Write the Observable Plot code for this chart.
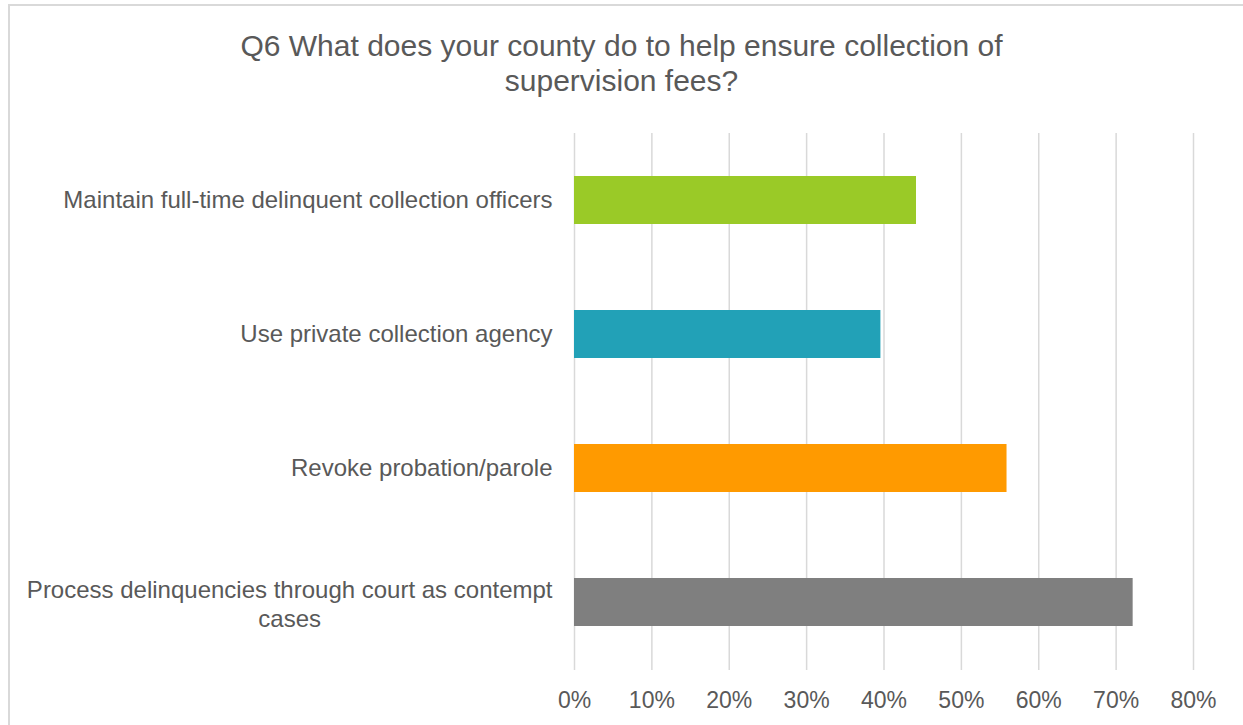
<!DOCTYPE html>
<html>
<head>
<meta charset="utf-8">
<script src="https://cdn.jsdelivr.net/npm/d3@7"></script>
<script src="https://cdn.jsdelivr.net/npm/@observablehq/plot@0.6"></script>
<style>
  html, body { margin: 0; padding: 0; background: #fff; overflow: hidden; width: 1243px; height: 725px; }
  #frame { position: absolute; left: 8px; top: 4px; width: 1300px; height: 800px; border: 2px solid #d9d9d9; box-sizing: border-box; }
  #title { position: absolute; left: 0; top: 28px; width: 1243px; text-align: center; font-family: "Liberation Sans", Arial, sans-serif; font-size: 30px; line-height: 35px; color: #595959; }
  #chart { position: absolute; left: 0; top: 120px; }
</style>
</head>
<body>
<div id="frame"></div>
<div id="title">Q6 What does your county do to help ensure collection of<br>supervision fees?</div>
<div id="chart"></div>
<script>
const categories = [
  "Maintain full-time delinquent collection officers",
  "Use private collection agency",
  "Revoke probation/parole",
  "Process delinquencies through court as contempt cases"
];
const values = [0.442, 0.396, 0.559, 0.722];
const colors = ["#9ACA27", "#22A1B7", "#FF9A00", "#7F7F7F"];
const xTicks = [0, 0.1, 0.2, 0.3, 0.4, 0.5, 0.6, 0.7, 0.8];
const wrappedLabels = {
  "Process delinquencies through court as contempt cases": ["Process delinquencies through court as contempt", "cases"]
};

const data = categories.map((c, i) => ({category: c, value: values[i], color: colors[i]}));
const singleLine = categories.filter(c => !wrappedLabels[c]);
const multiLine = categories.filter(c => wrappedLabels[c]);

const fontFamily = '"Liberation Sans", Arial, sans-serif';
const fontSize = 23;
const yFontSize = 24;
const ctx = document.createElement("canvas").getContext("2d");
ctx.font = `${yFontSize}px ${fontFamily}`;

const marks = [
  Plot.gridX(xTicks, {stroke: "#d9d9d9", strokeOpacity: 1, strokeWidth: 1.5}),
  Plot.barX(data, {x: "value", y: "category", fill: "color"}),
  Plot.axisX({ticks: xTicks, tickFormat: d3.format(".0%"), tickSize: 0, tickPadding: 21, fill: "#595959", fontSize: fontSize}),
  Plot.axisY({ticks: singleLine, tickSize: 0, tickPadding: 22, textAnchor: "end", fill: "#595959", fontSize: yFontSize})
];
for (const c of multiLine) {
  const lines = wrappedLabels[c];
  const w = d3.max(lines, l => ctx.measureText(l).width);
  marks.push(Plot.axisY({ticks: [c], tickSize: 0, tickPadding: 22, textAnchor: "middle", dx: -w / 2, dy: 1,
    tickFormat: () => lines.join("\n"), lineHeight: 1.17, fill: "#595959", fontSize: yFontSize}));
}

const chart = Plot.plot({
  width: 1243,
  height: 605,
  marginLeft: 574,
  marginRight: 50,
  marginTop: 13,
  marginBottom: 55,
  style: {fontFamily: fontFamily, fontSize: fontSize + "px", color: "#595959", background: "transparent"},
  x: {domain: [0, 0.8], label: null},
  y: {domain: categories, paddingInner: 0.64, paddingOuter: 0.32, label: null},
  color: {type: "identity"},
  marks
});
document.getElementById("chart").appendChild(chart);
</script>
</body>
</html>
